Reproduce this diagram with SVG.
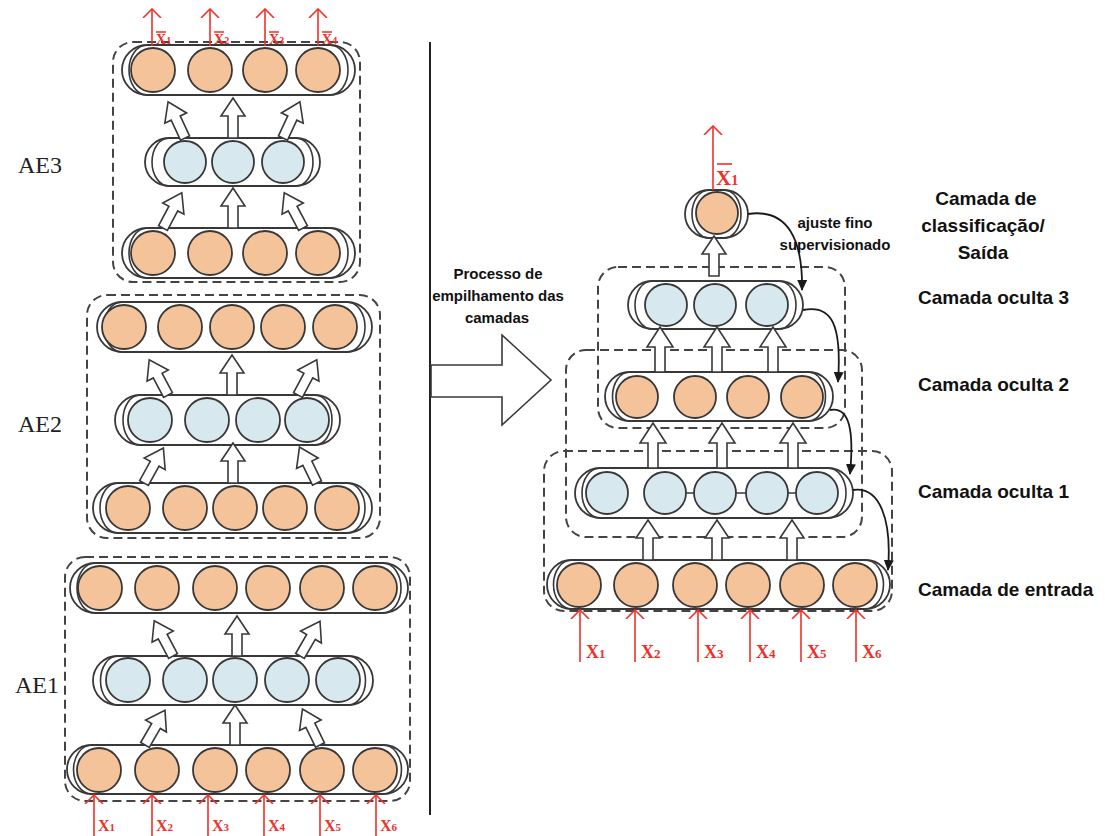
<svg xmlns="http://www.w3.org/2000/svg" width="1105" height="836" viewBox="0 0 1105 836">
  <style>
    .bg { fill: #ffffff; }
    .pill { fill: #ffffff; stroke: #383838; stroke-width: 1.8; }
    .inner { fill: none; stroke: #383838; stroke-width: 1.6; }
    .or { fill: #f5c39a; stroke: #383838; stroke-width: 1.8; }
    .bl { fill: #d7e8ee; stroke: #383838; stroke-width: 1.8; }
    .dash { fill: none; stroke: #444444; stroke-width: 2; stroke-dasharray: 9 5; }
    .blk { fill: #ffffff; stroke: #383838; stroke-width: 1.6; stroke-linejoin: miter; }
    .red { stroke: #f0302a; stroke-width: 1.6; fill: none; }
    .rtxt { fill: #f0302a; font-family: "Liberation Serif", serif; font-weight: bold; }
    .lbl { fill: #111111; font-family: "Liberation Sans", Arial, sans-serif; font-weight: bold; }
    .ae { fill: #222222; font-family: "Liberation Serif", serif; font-size: 24px; }
    .cur { fill: none; stroke: #1a1a1a; stroke-width: 1.8; }
    .link { stroke: #383838; stroke-width: 1.6; }
  </style>
  <defs>
    <!-- hollow block arrow, tail at origin pointing up -->
    <path id="ba" class="blk" d="M-5,0 V-22 H-12 L0,-40 L12,-22 H5 V0 Z"/>
    <path id="bb" class="blk" d="M-5,0 V-25 H-13 L0,-45 L13,-25 H5 V0 Z"/>
    <marker id="rh" viewBox="0 0 10 20" refX="9" refY="10" markerWidth="10" markerHeight="20" markerUnits="userSpaceOnUse" orient="auto">
      <path d="M0,1 L9,10 L0,19" fill="none" stroke="#f0302a" stroke-width="1.6"/>
    </marker>
    <marker id="kh" viewBox="0 0 12 12" refX="10" refY="6" markerWidth="12" markerHeight="12" markerUnits="userSpaceOnUse" orient="auto">
      <path d="M0,1 L11,6 L0,11 Z" fill="#1a1a1a"/>
    </marker>
  </defs>

  <rect class="bg" x="0" y="0" width="1105" height="836"/>

  <!-- ===== Left column: three autoencoders ===== -->
  <g id="ae3">
    <rect class="dash" x="113" y="42" width="247" height="240" rx="20"/>
    <!-- output layer -->
    <rect class="pill" x="122" y="45" width="233" height="50" rx="25"/>
    <path class="inner" d="M147,45 A18,25 0 0 0 147,95 M330,45 A18,25 0 0 1 330,95"/>
    <circle class="or" cx="153" cy="70" r="22"/>
    <circle class="or" cx="210" cy="70" r="22"/>
    <circle class="or" cx="265" cy="70" r="22"/>
    <circle class="or" cx="318" cy="70" r="22"/>
    <!-- hidden layer -->
    <rect class="pill" x="145" y="138" width="175" height="48" rx="24"/>
    <path class="inner" d="M169,138 A17,24 0 0 0 169,186 M296,138 A17,24 0 0 1 296,186"/>
    <circle class="bl" cx="185" cy="162" r="21"/>
    <circle class="bl" cx="233" cy="162" r="21"/>
    <circle class="bl" cx="283" cy="162" r="21"/>
    <!-- input layer -->
    <rect class="pill" x="122" y="228" width="233" height="50" rx="25"/>
    <path class="inner" d="M147,228 A18,25 0 0 0 147,278 M330,228 A18,25 0 0 1 330,278"/>
    <circle class="or" cx="153" cy="253" r="22"/>
    <circle class="or" cx="210" cy="253" r="22"/>
    <circle class="or" cx="265" cy="253" r="22"/>
    <circle class="or" cx="318" cy="253" r="22"/>
    <!-- block arrows -->
    <use href="#ba" transform="translate(163,228) rotate(28)"/>
    <use href="#ba" transform="translate(233,228)"/>
    <use href="#ba" transform="translate(303,228) rotate(-28)"/>
    <use href="#ba" transform="translate(185,138) rotate(-25)"/>
    <use href="#ba" transform="translate(233,138)"/>
    <use href="#ba" transform="translate(283,138) rotate(25)"/>
    <text class="ae" x="18" y="173">AE3</text>
  </g>

  <g id="ae2">
    <rect class="dash" x="87" y="295" width="293" height="243" rx="20"/>
    <rect class="pill" x="97" y="302" width="275" height="50" rx="25"/>
    <path class="inner" d="M122,302 A18,25 0 0 0 122,352 M347,302 A18,25 0 0 1 347,352"/>
    <circle class="or" cx="124" cy="327" r="22"/>
    <circle class="or" cx="180" cy="327" r="22"/>
    <circle class="or" cx="232" cy="327" r="22"/>
    <circle class="or" cx="283" cy="327" r="22"/>
    <circle class="or" cx="335" cy="327" r="22"/>
    <rect class="pill" x="115" y="395" width="225" height="50" rx="25"/>
    <path class="inner" d="M140,395 A17,25 0 0 0 140,445 M315,395 A17,25 0 0 1 315,445"/>
    <circle class="bl" cx="150" cy="420" r="22"/>
    <circle class="bl" cx="207" cy="420" r="22"/>
    <circle class="bl" cx="258" cy="420" r="22"/>
    <circle class="bl" cx="307" cy="420" r="22"/>
    <rect class="pill" x="93" y="483" width="279" height="50" rx="25"/>
    <path class="inner" d="M118,483 A18,25 0 0 0 118,533 M347,483 A18,25 0 0 1 347,533"/>
    <circle class="or" cx="128" cy="508" r="22"/>
    <circle class="or" cx="185" cy="508" r="22"/>
    <circle class="or" cx="235" cy="508" r="22"/>
    <circle class="or" cx="285" cy="508" r="22"/>
    <circle class="or" cx="337" cy="508" r="22"/>
    <use href="#ba" transform="translate(144,483) rotate(29)"/>
    <use href="#ba" transform="translate(233,483)"/>
    <use href="#ba" transform="translate(317,483) rotate(-26)"/>
    <use href="#ba" transform="translate(168,395) rotate(-28)"/>
    <use href="#ba" transform="translate(232,395)"/>
    <use href="#ba" transform="translate(298,395) rotate(28)"/>
    <text class="ae" x="18" y="432">AE2</text>
  </g>

  <g id="ae1">
    <rect class="dash" x="65" y="557" width="345" height="244" rx="20"/>
    <rect class="pill" x="70" y="563" width="338" height="50" rx="25"/>
    <path class="inner" d="M95,563 A18,25 0 0 0 95,613 M383,563 A18,25 0 0 1 383,613"/>
    <circle class="or" cx="100" cy="588" r="22"/>
    <circle class="or" cx="157" cy="588" r="22"/>
    <circle class="or" cx="215" cy="588" r="22"/>
    <circle class="or" cx="268" cy="588" r="22"/>
    <circle class="or" cx="322" cy="588" r="22"/>
    <circle class="or" cx="375" cy="588" r="22"/>
    <rect class="pill" x="93" y="656" width="280" height="49" rx="24.5"/>
    <path class="inner" d="M117.5,656 A17,24.5 0 0 0 117.5,705 M348.5,656 A17,24.5 0 0 1 348.5,705"/>
    <circle class="bl" cx="128" cy="680" r="22"/>
    <circle class="bl" cx="185" cy="680" r="22"/>
    <circle class="bl" cx="235" cy="680" r="22"/>
    <circle class="bl" cx="287" cy="680" r="22"/>
    <circle class="bl" cx="338" cy="680" r="22"/>
    <rect class="pill" x="67" y="745" width="341" height="49" rx="24.5"/>
    <path class="inner" d="M91.5,745 A18,24.5 0 0 0 91.5,794 M383.5,745 A18,24.5 0 0 1 383.5,794"/>
    <circle class="or" cx="99" cy="770" r="22"/>
    <circle class="or" cx="157" cy="770" r="22"/>
    <circle class="or" cx="215" cy="770" r="22"/>
    <circle class="or" cx="268" cy="770" r="22"/>
    <circle class="or" cx="322" cy="770" r="22"/>
    <circle class="or" cx="375" cy="770" r="22"/>
    <use href="#ba" transform="translate(145,745) rotate(30)"/>
    <use href="#ba" transform="translate(235,745)"/>
    <use href="#ba" transform="translate(320,745) rotate(-26)"/>
    <use href="#ba" transform="translate(173,656) rotate(-28)"/>
    <use href="#ba" transform="translate(237,656)"/>
    <use href="#ba" transform="translate(300,656) rotate(30)"/>
    <text class="ae" x="15" y="693">AE1</text>
  </g>

  <!-- red outputs above AE3 -->
  <g id="ae3-out">
    <path class="red" d="M152,46 V9" marker-end="url(#rh)"/>
    <path class="red" d="M210,46 V9" marker-end="url(#rh)"/>
    <path class="red" d="M265,46 V9" marker-end="url(#rh)"/>
    <path class="red" d="M318,46 V9" marker-end="url(#rh)"/>
    <g class="rtxt" font-size="14">
      <text x="156" y="44">X<tspan font-size="10">1</tspan></text>
      <text x="214" y="44">X<tspan font-size="10">2</tspan></text>
      <text x="269" y="44">X<tspan font-size="10">3</tspan></text>
      <text x="322" y="44">X<tspan font-size="10">4</tspan></text>
    </g>
    <path class="red" d="M156,32 H166 M214,32 H224 M269,32 H279 M322,32 H332"/>
  </g>

  <!-- red inputs below AE1 -->
  <g id="ae1-in">
    <path class="red" d="M94,836 V795" marker-end="url(#rh)"/>
    <path class="red" d="M152,836 V795" marker-end="url(#rh)"/>
    <path class="red" d="M208,836 V795" marker-end="url(#rh)"/>
    <path class="red" d="M264,836 V795" marker-end="url(#rh)"/>
    <path class="red" d="M320,836 V795" marker-end="url(#rh)"/>
    <path class="red" d="M376,836 V795" marker-end="url(#rh)"/>
    <g class="rtxt" font-size="16">
      <text x="98" y="831">X<tspan font-size="11">1</tspan></text>
      <text x="156" y="831">X<tspan font-size="11">2</tspan></text>
      <text x="212" y="831">X<tspan font-size="11">3</tspan></text>
      <text x="268" y="831">X<tspan font-size="11">4</tspan></text>
      <text x="324" y="831">X<tspan font-size="11">5</tspan></text>
      <text x="380" y="831">X<tspan font-size="11">6</tspan></text>
    </g>
  </g>

  <!-- ===== Divider and stacking arrow ===== -->
  <g id="stacking">
    <line x1="430" y1="42" x2="430" y2="815" stroke="#222" stroke-width="2"/>
    <polygon class="blk" stroke-width="2" points="431,365 502,365 502,335 551,380 502,425 502,397 431,397"/>
    <g class="lbl" font-size="15" text-anchor="middle">
      <text x="498" y="279">Processo de</text>
      <text x="498" y="301">empilhamento das</text>
      <text x="497" y="323">camadas</text>
    </g>
  </g>

  <!-- ===== Right column: stacked network ===== -->
  <g id="frames">
    <rect class="dash" x="598" y="267" width="247" height="161" rx="20"/>
    <rect class="dash" x="566" y="350" width="296" height="187" rx="20"/>
    <rect class="dash" x="544" y="451" width="348" height="160" rx="20"/>
  </g>

  <g id="output-layer">
    <rect class="pill" x="685" y="190" width="63" height="48" rx="24"/>
    <path class="inner" d="M709,190 A17,24 0 0 0 709,238 M724,190 A17,24 0 0 1 724,238"/>
    <circle class="or" cx="717" cy="213" r="21"/>
    <path class="red" d="M713,190 V126" marker-end="url(#rh)"/>
    <text class="rtxt" font-size="21" x="716" y="185">X<tspan font-size="14">1</tspan></text>
    <path class="red" d="M717,164 H732" stroke-width="2"/>
  </g>

  <g id="hidden-3">
    <rect class="pill" x="628" y="281" width="175" height="48" rx="24"/>
    <path class="inner" d="M652,281 A17,24 0 0 0 652,329 M779,281 A17,24 0 0 1 779,329"/>
    <circle class="bl" cx="666" cy="305" r="21"/>
    <circle class="bl" cx="715" cy="305" r="21"/>
    <circle class="bl" cx="767" cy="305" r="21"/>
  </g>

  <g id="hidden-2">
    <rect class="pill" x="605" y="372" width="228" height="49" rx="24.5"/>
    <path class="inner" d="M629.5,372 A17,24.5 0 0 0 629.5,421 M808.5,372 A17,24.5 0 0 1 808.5,421"/>
    <circle class="or" cx="637" cy="397" r="21"/>
    <circle class="or" cx="695" cy="397" r="21"/>
    <circle class="or" cx="748" cy="397" r="21"/>
    <circle class="or" cx="802" cy="397" r="21"/>
  </g>

  <g id="hidden-1">
    <rect class="pill" x="575" y="468" width="278" height="50" rx="25"/>
    <path class="inner" d="M600,468 A18,25 0 0 0 600,518 M828,468 A18,25 0 0 1 828,518"/>
    <line class="link" x1="686" y1="493" x2="796" y2="493"/>
    <circle class="bl" cx="607" cy="493" r="21"/>
    <circle class="bl" cx="665" cy="493" r="21"/>
    <circle class="bl" cx="715" cy="493" r="21"/>
    <circle class="bl" cx="767" cy="493" r="21"/>
    <circle class="bl" cx="817" cy="493" r="21"/>
  </g>

  <g id="input-layer">
    <rect class="pill" x="547" y="560" width="343" height="49" rx="24.5"/>
    <path class="inner" d="M571.5,560 A18,24.5 0 0 0 571.5,609 M865.5,560 A18,24.5 0 0 1 865.5,609"/>
    <circle class="or" cx="579" cy="585" r="22"/>
    <circle class="or" cx="636" cy="585" r="22"/>
    <circle class="or" cx="695" cy="585" r="22"/>
    <circle class="or" cx="748" cy="585" r="22"/>
    <circle class="or" cx="802" cy="585" r="22"/>
    <circle class="or" cx="855" cy="585" r="22"/>
    <path class="red" d="M580,662 V610" marker-end="url(#rh)"/>
    <path class="red" d="M635,662 V610" marker-end="url(#rh)"/>
    <path class="red" d="M698,662 V610" marker-end="url(#rh)"/>
    <path class="red" d="M750,662 V610" marker-end="url(#rh)"/>
    <path class="red" d="M801,662 V610" marker-end="url(#rh)"/>
    <path class="red" d="M856,662 V610" marker-end="url(#rh)"/>
    <g class="rtxt" font-size="18">
      <text x="586" y="658">X<tspan font-size="13">1</tspan></text>
      <text x="641" y="658">X<tspan font-size="13">2</tspan></text>
      <text x="704" y="658">X<tspan font-size="13">3</tspan></text>
      <text x="756" y="658">X<tspan font-size="13">4</tspan></text>
      <text x="807" y="658">X<tspan font-size="13">5</tspan></text>
      <text x="862" y="658">X<tspan font-size="13">6</tspan></text>
    </g>
  </g>

  <!-- connectors: block arrows between layers and fine-tuning arcs -->
  <g id="connectors">
    <use href="#ba" transform="translate(714,276)"/>
    <use href="#bb" transform="translate(660,372)"/>
    <use href="#bb" transform="translate(717,372)"/>
    <use href="#bb" transform="translate(773,372)"/>
    <use href="#bb" transform="translate(653,468)"/>
    <use href="#bb" transform="translate(722,468)"/>
    <use href="#bb" transform="translate(793,468)"/>
    <use href="#ba" transform="translate(648,560)"/>
    <use href="#ba" transform="translate(717,560)"/>
    <use href="#ba" transform="translate(792,560)"/>
    <path class="cur" d="M748,214 C788,208 803,240 802,290" marker-end="url(#kh)"/>
    <path class="cur" d="M803,310 C832,304 842,325 838,382" marker-end="url(#kh)"/>
    <path class="cur" d="M830,410 C850,406 854,432 850,474" marker-end="url(#kh)"/>
    <path class="cur" d="M853,490 C880,486 892,520 888,570" marker-end="url(#kh)"/>
  </g>

  <g id="labels" class="lbl">
    <g font-size="15" text-anchor="middle">
      <text x="835" y="228">ajuste fino</text>
      <text x="835" y="250">supervisionado</text>
    </g>
    <g font-size="19">
      <text x="986" y="205" text-anchor="middle">Camada de</text>
      <text x="983" y="232" text-anchor="middle">classificação/</text>
      <text x="983" y="259" text-anchor="middle">Saída</text>
      <text x="918" y="304">Camada oculta 3</text>
      <text x="918" y="391">Camada oculta 2</text>
      <text x="918" y="498">Camada oculta 1</text>
      <text x="918" y="596">Camada de entrada</text>
    </g>
  </g>
</svg>
